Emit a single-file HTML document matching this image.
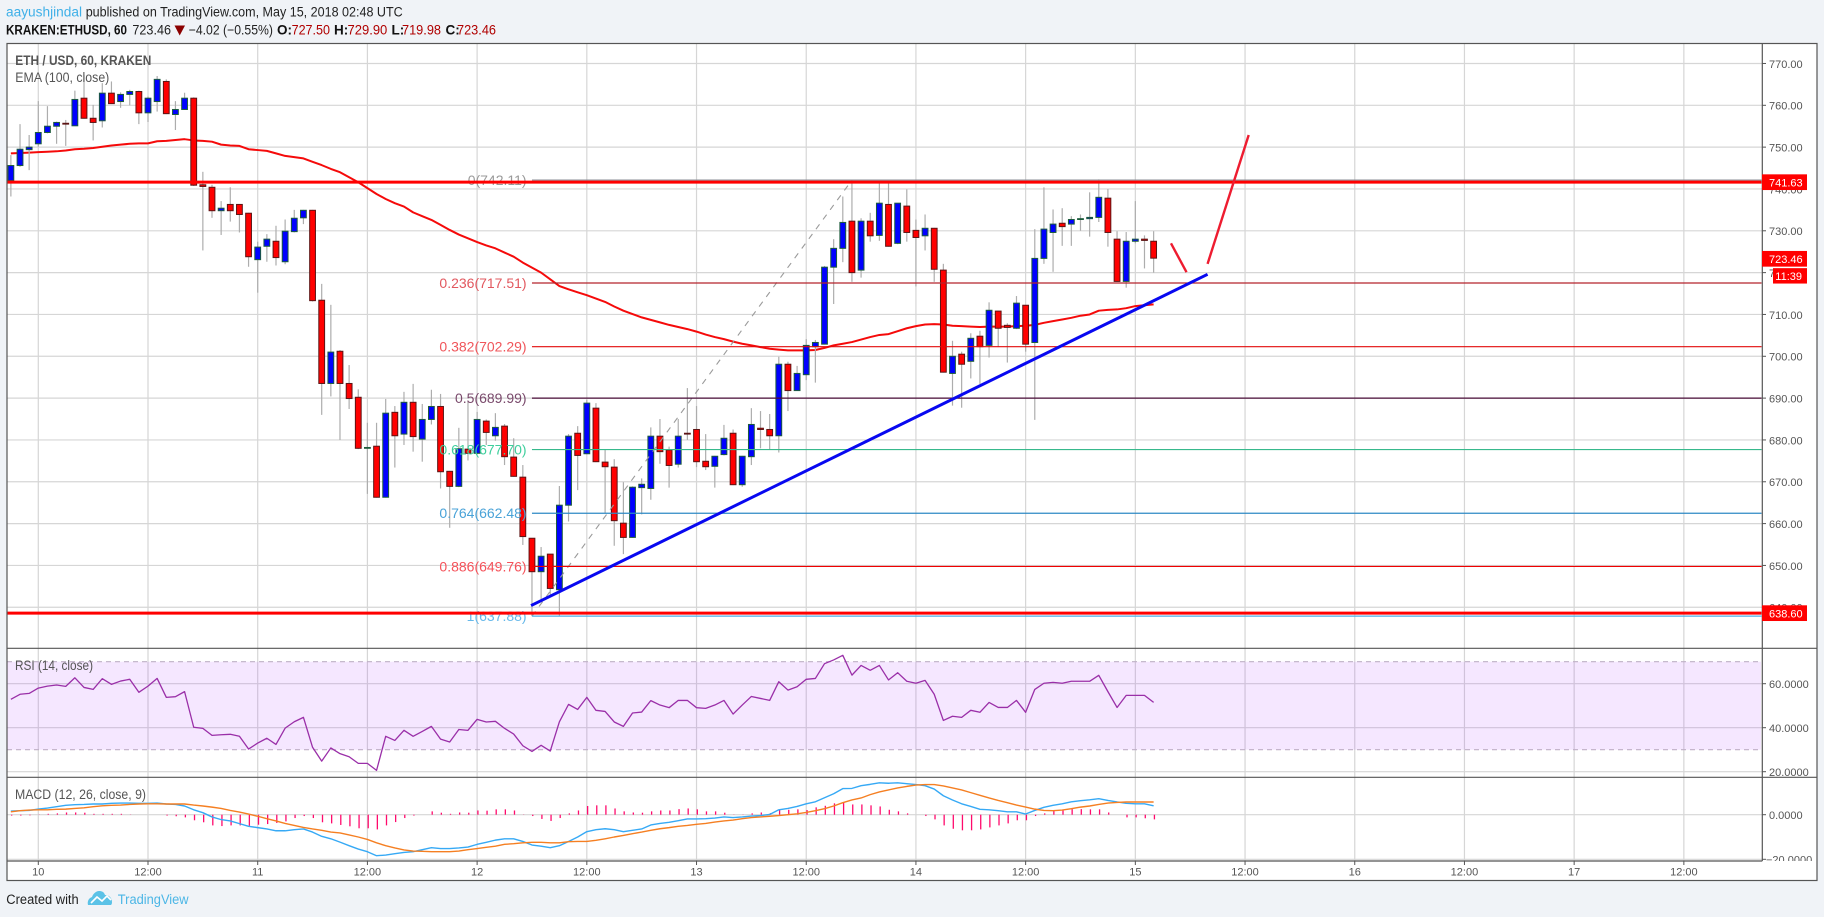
<!DOCTYPE html>
<html lang="en">
<head>
<meta charset="utf-8">
<title>ETH / USD chart</title>
<style>
html,body{margin:0;padding:0;background:#f0f3f7;width:1824px;height:917px;overflow:hidden}
svg{display:block;font-family:"Liberation Sans",Arial,sans-serif}
</style>
</head>
<body>
<svg id="chart" xmlns="http://www.w3.org/2000/svg" width="1824" height="917" viewBox="0 0 1824 917">
  <defs>
    <clipPath id="mainClip"><rect x="7" y="44" width="1755" height="604"/></clipPath>
    <clipPath id="macdClip"><rect x="7" y="778" width="1755" height="83"/></clipPath>
    <clipPath id="macdAxisClip"><rect x="1763" y="778" width="54" height="83"/></clipPath>
  </defs>
  <rect x="0" y="0" width="1824" height="917" fill="#f0f3f7"/>

  <g font-size="13.5">
    <text x="6" y="16.5" fill="#3fb0e8" textLength="76" lengthAdjust="spacingAndGlyphs">aayushjindal</text>
    <text x="85.7" y="16.5" fill="#222" textLength="317" lengthAdjust="spacingAndGlyphs">published on TradingView.com, May 15, 2018 02:48 UTC</text>
  </g>
  <g font-size="13.5">
    <text x="6" y="34.5" fill="#111" font-weight="700" textLength="121" lengthAdjust="spacingAndGlyphs">KRAKEN:ETHUSD, 60</text>
    <text x="132.4" y="34.5" fill="#222" textLength="38.6" lengthAdjust="spacingAndGlyphs">723.46</text>
    <polygon points="174.5,25.5 185,25.5 179.7,35.5" fill="#8b0000"/>
    <text x="188.7" y="34.5" fill="#222" textLength="84.3" lengthAdjust="spacingAndGlyphs">−4.02 (−0.55%)</text>
    <text x="277" y="34.5" fill="#111" font-weight="700">O:</text>
    <text x="291.6" y="34.5" fill="#b00000" textLength="38.4" lengthAdjust="spacingAndGlyphs">727.50</text>
    <text x="334" y="34.5" fill="#111" font-weight="700">H:</text>
    <text x="347.5" y="34.5" fill="#b00000" textLength="39.8" lengthAdjust="spacingAndGlyphs">729.90</text>
    <text x="391.5" y="34.5" fill="#111" font-weight="700">L:</text>
    <text x="402" y="34.5" fill="#b00000" textLength="39" lengthAdjust="spacingAndGlyphs">719.98</text>
    <text x="445.5" y="34.5" fill="#111" font-weight="700">C:</text>
    <text x="457" y="34.5" fill="#b00000" textLength="39" lengthAdjust="spacingAndGlyphs">723.46</text>
  </g>

  <rect x="7" y="43.5" width="1810" height="837" fill="#ffffff"/>

  <g id="grid"></g>
  <g id="rsiBandLines"></g>
  <g id="mainLower" clip-path="url(#mainClip)"></g>
  <g id="candles" clip-path="url(#mainClip)"></g>
  <g id="drawings" clip-path="url(#mainClip)"></g>
  <g id="rsiPane"></g>
  <g id="macdPane" clip-path="url(#macdClip)"></g>

  <g stroke="#555" stroke-width="1.2" fill="none">
    <rect x="7" y="43.5" width="1810" height="837"/>
    <line x1="1762.3" y1="43.5" x2="1762.3" y2="861"/>
    <line x1="7" y1="648.3" x2="1817" y2="648.3"/>
    <line x1="7" y1="777.3" x2="1817" y2="777.3"/>
    <line x1="7" y1="861" x2="1762.3" y2="861"/>
  </g>
  <g id="axes"></g>
  <g id="macdAxis" clip-path="url(#macdAxisClip)"></g>
  <g id="badges"></g>

  <g fill="#555">
    <text x="15.3" y="65" font-size="13.5" font-weight="700" textLength="136" lengthAdjust="spacingAndGlyphs">ETH / USD, 60, KRAKEN</text>
    <text x="15.3" y="82" font-size="13.5" textLength="94" lengthAdjust="spacingAndGlyphs">EMA (100, close)</text>
    <text x="15" y="670" font-size="13.5" textLength="78" lengthAdjust="spacingAndGlyphs">RSI (14, close)</text>
    <text x="15" y="799" font-size="13.5" textLength="131" lengthAdjust="spacingAndGlyphs">MACD (12, 26, close, 9)</text>
  </g>

  <g>
    <text x="6.3" y="904" font-size="13.5" fill="#222" textLength="72.4" lengthAdjust="spacingAndGlyphs">Created with</text>
    <g>
      <path d="M88 905c-1-4 1-7 4-8 1-3 4-6 7-6 3 0 5 1 6 4 4 0 7 3 7 7 0 1 0 2-1 3z" fill="#5bc2e7"/>
      <path d="M91 903l6-6 5 4 5-5 4 4" fill="none" stroke="#ffffff" stroke-width="1.6"/>
    </g>
    <text x="117.8" y="904" font-size="13.5" fill="#4bb6e6" textLength="70.8" lengthAdjust="spacingAndGlyphs">TradingView</text>
  </g>
</svg>

<script>
// ---- chart data (one entry per hourly candle) ----
const firstCandleHour = -3; // hours relative to May 10 00:00
const openPrices = [
742.0,745.6,749.4,750.8,753.5,755.0,755.7,755.1,761.7,756.9,
756.3,762.9,760.9,762.6,763.3,758.2,760.9,765.7,757.8,759.0,
761.7,741.0,740.4,734.8,736.3,736.3,734.2,723.1,726.3,727.5,
722.6,729.8,733.1,734.9,713.4,693.5,701.2,693.5,690.2,678.0,
678.5,666.3,686.6,681.4,689.0,680.2,684.9,688.0,672.5,668.9,
677.8,676.8,684.5,681.0,683.3,675.9,671.1,656.5,648.5,652.7,
644.2,664.4,681.6,676.7,687.6,674.7,673.5,660.1,656.7,668.6,
668.4,680.9,677.6,674.2,681.6,682.5,674.9,673.7,676.5,681.6,
669.3,676.0,682.8,682.5,681.0,698.1,691.8,695.6,702.3,702.9,
721.3,725.8,732.3,720.6,732.3,728.9,736.3,727.0,735.9,730.1,
728.8,730.6,720.6,695.9,700.5,698.8,704.8,702.6,710.8,707.4,
706.7,712.2,703.3,723.4,729.6,731.8,731.6,732.7,732.9,733.2,
737.8,728.0,717.9,727.5,728.0,727.5];
const closePrices = [
745.6,749.5,750.0,753.5,755.0,755.9,755.5,761.4,756.9,755.9,
762.9,760.4,762.6,763.3,758.2,761.7,766.2,758.0,759.0,761.7,
740.9,740.6,734.8,735.4,734.8,733.9,723.8,726.1,728.0,723.6,
729.9,733.0,734.9,713.3,693.5,701.0,693.5,689.9,678.0,678.2,
666.3,686.4,681.0,689.0,680.8,684.9,688.0,672.4,668.9,677.9,
676.8,684.9,681.8,683.0,676.0,671.3,656.9,648.5,652.2,644.5,
664.4,680.9,676.3,688.8,674.8,673.6,660.7,656.7,668.7,669.4,
680.9,677.2,673.9,680.9,681.4,674.8,673.6,676.1,680.4,669.3,
676.1,683.7,682.5,681.0,698.1,691.8,695.9,702.6,703.3,721.3,
725.8,732.0,720.0,732.3,728.8,736.6,726.3,736.6,729.6,728.4,
730.6,720.8,696.2,700.0,698.1,704.3,702.3,711.0,706.7,706.9,
712.7,702.9,723.4,730.4,731.6,731.0,732.7,732.9,733.2,738.0,
729.6,717.9,727.5,728.0,727.7,723.46];
const highPrices = [
748.1,755.5,752.9,761.0,759.8,756.1,756.5,763.5,767.3,760.1,
765.3,765.7,763.1,763.7,763.5,762.1,767.0,766.2,761.0,763.0,
761.9,744.1,741.0,737.1,740.4,736.4,734.3,727.4,729.2,731.2,
732.7,735.0,735.0,735.0,717.3,712.3,701.5,697.9,692.1,684.1,
684.1,689.8,688.1,691.5,693.4,688.6,692.0,691.0,672.6,682.9,
689.2,686.7,684.9,686.4,683.8,680.4,674.0,656.5,654.4,652.7,
669.0,681.4,683.3,689.6,688.8,677.6,675.4,669.9,668.9,670.8,
683.0,685.0,678.4,685.0,692.4,688.1,681.4,676.2,683.6,682.5,
676.2,687.6,686.9,686.2,699.9,698.7,697.7,704.1,703.9,721.6,
728.0,738.2,742.11,733.0,734.3,741.4,741.4,736.6,739.9,732.7,
733.9,730.7,722.1,703.7,701.1,705.5,706.1,712.9,710.9,707.9,
714.4,712.2,730.4,740.4,735.1,735.4,733.5,733.9,739.2,742.3,
740.0,729.9,729.7,737.1,728.9,729.90];
const lowPrices = [
738.2,745.3,744.5,750.1,753.3,750.8,750.3,755.1,756.8,751.6,
754.7,760.3,759.4,760.0,755.5,756.0,758.5,757.9,754.1,758.9,
740.7,725.3,733.1,729.0,732.2,729.6,721.4,715.2,722.6,721.7,
722.0,729.6,731.6,713.1,686.0,690.4,680.0,687.4,677.8,667.1,
666.2,666.2,673.4,678.8,677.2,674.8,683.7,668.4,659.0,668.7,
675.1,676.6,678.8,679.8,674.0,671.2,654.9,637.88,641.9,643.0,
637.9,660.5,668.0,676.6,674.7,662.5,654.7,652.7,656.6,662.2,
665.7,674.3,668.6,673.4,680.0,673.5,672.8,668.6,676.3,669.2,
668.8,674.0,678.0,677.8,677.0,686.9,691.7,694.3,693.7,702.8,
712.5,722.5,717.8,718.8,727.4,727.6,726.2,726.8,727.4,716.7,
725.3,717.8,696.1,688.2,687.7,694.7,693.4,699.7,702.2,698.5,
706.5,701.1,684.8,722.1,720.2,726.4,726.4,730.0,728.6,732.1,
726.2,717.8,716.4,727.0,721.0,719.98];
const emaValues = [
748.5,748.6,748.7,748.8,748.9,749.0,749.2,749.5,749.6,749.8,
750.1,750.4,750.6,750.8,750.9,750.9,751.4,751.5,751.7,751.9,
751.6,751.5,751.3,750.6,750.4,750.3,749.5,749.3,749.1,748.5,
747.9,747.6,747.3,746.5,745.7,744.8,744.0,742.8,741.6,740.2,
738.8,737.6,736.6,735.8,734.4,733.5,732.6,731.4,730.2,729.1,
728.2,727.3,726.5,725.8,724.8,723.8,722.4,721.2,720.0,718.4,
716.8,716.0,715.3,714.6,713.8,713.0,711.9,710.9,710.1,709.3,
708.7,708.1,707.5,707.0,706.5,705.9,705.2,704.6,704.1,703.5,
703.0,702.6,702.2,701.8,701.6,701.4,701.4,701.4,701.5,702.0,
702.6,703.0,703.4,704.0,704.6,705.1,705.3,706.0,706.7,707.2,
707.6,707.7,707.6,707.3,707.2,707.1,707.0,707.1,707.1,707.1,
707.2,707.3,707.5,708.0,708.4,708.8,709.2,709.7,710.0,710.9,
711.1,711.2,711.5,712.0,712.2,712.4];
const rsiValues = [
52.9,55.2,55.6,58.0,58.9,59.4,58.8,62.7,58.3,57.4,
62.3,59.7,61.2,62.0,56.1,58.9,62.4,53.8,54.1,56.4,
40.2,39.7,36.5,36.8,37.0,36.1,30.3,33.0,35.2,32.4,
39.8,42.7,44.7,31.1,24.8,30.8,28.2,26.8,23.8,23.8,
20.6,36.1,34.2,38.8,36.1,38.3,40.6,34.8,33.5,39.2,
38.8,43.8,42.6,42.9,39.7,37.1,31.8,29.2,32.0,29.4,
42.7,50.6,48.3,53.8,47.9,47.4,42.6,40.6,46.7,47.1,
52.3,50.3,49.1,52.4,52.4,49.1,48.8,50.3,52.4,46.2,
50.3,54.2,53.3,52.4,60.9,57.1,58.6,62.0,62.4,69.1,
70.8,72.9,63.9,68.3,66.1,68.3,61.7,65.0,61.1,60.2,
61.5,55.2,43.3,45.2,44.7,47.9,47.0,51.5,49.2,49.2,
52.4,47.0,57.4,60.2,60.6,60.2,61.1,61.1,61.1,63.8,
56.4,49.2,54.7,54.7,54.7,51.5];
const macdValues = [
1.6,1.8,1.9,2.5,3.0,3.6,4.2,4.5,4.6,4.8,
4.8,5.1,5.2,5.2,5.1,5.1,5.2,4.8,4.6,3.9,
2.2,0.9,-1.0,-2.2,-2.8,-4.0,-5.2,-5.8,-6.4,-7.2,
-7.2,-6.7,-6.4,-7.8,-9.7,-10.8,-12.3,-13.9,-15.4,-16.6,
-18.4,-18.1,-17.5,-16.9,-16.6,-15.7,-14.8,-15.2,-15.2,-14.9,
-14.5,-13.3,-12.4,-11.4,-10.8,-10.8,-12.0,-13.6,-14.1,-14.8,
-13.9,-12.0,-10.0,-7.6,-6.7,-6.3,-6.7,-7.6,-7.0,-6.4,
-4.6,-3.9,-3.4,-2.7,-1.9,-1.9,-1.8,-1.5,-1.0,-1.3,
-1.0,-0.6,-0.4,0.1,2.2,2.8,3.7,4.9,5.8,7.6,
9.4,11.7,11.8,13.0,13.6,14.3,14.1,14.3,13.9,13.5,
13.0,11.5,8.5,6.6,4.9,3.7,2.4,2.2,1.8,1.3,
1.3,0.3,1.9,3.3,4.2,4.9,5.8,6.3,6.7,7.2,
6.4,5.7,5.1,4.9,4.9,4.0];
const signalValues = [
1.3,1.8,2.1,2.2,2.2,2.4,2.5,2.8,3.1,3.6,
4.0,4.2,4.3,4.6,4.8,4.9,4.9,4.8,4.8,4.8,
4.3,3.9,3.4,2.8,1.9,1.2,0.3,-0.7,-1.8,-2.8,
-3.9,-4.8,-5.7,-6.4,-7.0,-7.8,-8.2,-9.1,-10.0,-11.1,
-12.6,-13.9,-14.9,-15.8,-16.3,-16.4,-16.6,-16.6,-16.6,-16.3,
-15.7,-15.2,-14.6,-14.1,-13.3,-13.0,-12.6,-12.4,-12.4,-12.6,
-12.6,-12.1,-12.0,-12.0,-11.5,-10.8,-10.0,-9.3,-8.5,-7.8,
-7.0,-6.3,-5.8,-5.2,-4.8,-4.3,-3.9,-3.3,-2.8,-2.4,
-1.8,-1.3,-1.0,-0.7,-0.4,0.0,0.4,1.0,1.8,2.7,
3.9,5.4,6.6,7.5,9.0,10.2,11.1,12.0,12.7,13.3,
13.5,13.5,12.9,12.0,11.1,9.9,8.7,7.5,6.4,5.4,
4.3,3.4,2.5,1.9,1.8,2.1,2.7,3.4,3.9,4.6,
5.2,5.5,5.7,5.7,5.7,5.7];
const histValues = [
-0.4,-0.4,-0.3,0.1,0.4,0.6,1.0,1.0,0.9,0.4,
0.4,0.4,0.4,0.1,0,0,0,-0.4,-0.7,-1.2,
-2.5,-3.4,-4.8,-5.1,-4.8,-4.8,-5.0,-4.5,-4.2,-3.7,
-3.0,-1.5,-0.6,-1.5,-3.4,-3.9,-4.6,-5.2,-6.1,-6.1,
-6.6,-4.8,-3.3,-1.5,-0.4,0,1.5,0.9,0.4,1.0,
0.9,1.9,1.8,2.4,2.4,1.9,0.1,-0.6,-1.9,-2.8,
-1.5,0.6,1.9,3.9,4.2,4.2,2.8,1.5,1.0,0.9,
1.5,1.9,1.9,2.5,2.8,2.4,1.5,1.5,0.9,0.1,
0.1,0.6,1.0,0.7,2.1,2.2,2.4,2.1,3.3,4.0,
5.1,5.5,4.6,4.6,4.2,3.7,2.2,1.5,0.6,0,
-0.6,-2.1,-4.8,-6.3,-7.0,-7.0,-6.6,-5.7,-4.8,-3.9,
-2.5,-2.5,-0.6,0.6,1.8,2.1,2.5,2.5,2.4,2.4,
1.0,0,-1.2,-1.2,-1.6,-2.1];

// ---- axis and level data ----
const timeTickHours = [0,12,24,36,48,60,72,84,96,108,120,132,144,156,168,180];
const timeTickLabels = ["10","12:00","11","12:00","12","12:00","13","12:00","14","12:00","15","12:00","16","12:00","17","12:00"];
const priceTicks = [770,760,750,740,730,720,710,700,690,680,670,660,650,640];
const rsiTicks = [60,40,20];
const rsiBandLevels = [70,30];
const macdTicks = [0,-20];
const fibRatios = ["0","0.236","0.382","0.5","0.618","0.764","0.886","1"];
const fibPrices = [742.11,717.51,702.29,689.99,677.70,662.48,649.76,637.88];
const resistanceLevels = [741.63,638.60];
const trendHours = [53.9,127.9];
const trendPrices = [640.4,719.6];
const pullbackHours = [123.9,125.6];
const pullbackPrices = [727.0,720.1];
const rallyHours = [127.9,132.4];
const rallyPrices = [722.1,752.9];
const lastPriceBadge = 723.46;
const countdownLabel = "11:39";

// ---- scales ----
const xOfHour = h => 38.3 + 9.142 * h;
const xOfIndex = i => xOfHour(firstCandleHour + i);
const yPrice = p => 105.3 + (760 - p) * 4.183;
const yRsi = v => 683.7 + (60 - v) * 2.2;
const yMacd = v => 814.7 - v * 2.23;

const NS = "http://www.w3.org/2000/svg";
const fibColors = ["#8a8d94","#b5242c","#e30b0b","#4a0d38","#37b98c","#2e8ac4","#f00000","#4eaee6"];
const fibTextColors = ["#9a9a9a","#e2585f","#f0555a","#7a4a6c","#3fcf9d","#4aa3d8","#f5525a","#66b8ea"];

function make(parent, tag, attrs, text) {
  const el = document.createElementNS(NS, tag);
  for (const key in attrs) el.setAttribute(key, attrs[key]);
  if (text !== undefined) el.textContent = text;
  document.getElementById(parent).appendChild(el);
  return el;
}
function pathFrom(values, yFn) {
  return values.map((v, i) => (i ? "L" : "M") + xOfIndex(i).toFixed(2) + " " + yFn(v).toFixed(2)).join(" ");
}

// ---- grid ----
timeTickHours.forEach(h => {
  const line = make("grid", "line", {x1: xOfHour(h), x2: xOfHour(h), y1: 44, y2: 861, stroke: "#d6d6d6", "stroke-width": 1.2});
  
  
});
priceTicks.forEach(p => {
  const line = make("grid", "line", {x1: 7, x2: 1762, y1: yPrice(p), y2: yPrice(p), stroke: "#d6d6d6", "stroke-width": 1.2});
  
  
});
rsiTicks.forEach(v => {
  const line = make("grid", "line", {x1: 7, x2: 1762, y1: yRsi(v), y2: yRsi(v), stroke: "#d6d6d6", "stroke-width": 1.2});
  
  
});
macdTicks.forEach(v => {
  const line = make("grid", "line", {x1: 7, x2: 1762, y1: yMacd(v), y2: yMacd(v), stroke: "#d6d6d6", "stroke-width": 1.2});
  
  
});
// translucent purple RSI band drawn over the grid
const rsiBand = make("grid", "rect", {x: 7, y: yRsi(rsiBandLevels[0]), width: 1754, height: yRsi(rsiBandLevels[1]) - yRsi(rsiBandLevels[0]), fill: "#9915ff", "fill-opacity": 0.1});


rsiBandLevels.forEach(v => {
  const line = make("rsiBandLines", "line", {x1: 7, x2: 1761, y1: yRsi(v), y2: yRsi(v), stroke: "#bfb0c6", "stroke-width": 1.2, "stroke-dasharray": "5 4"});
  
  
});

// ---- EMA ----
const emaLine = make("mainLower", "path", {d: pathFrom(emaValues, yPrice), fill: "none", stroke: "#f50a0a", "stroke-width": 2, "stroke-linejoin": "round"});



// ---- candles ----
openPrices.forEach((o, i) => {
  const c = closePrices[i];
  const up = c >= o;
  const x = xOfIndex(i);
  const wick = make("candles", "line", {x1: x, x2: x, y1: yPrice(highPrices[i]), y2: yPrice(lowPrices[i]), stroke: "#adadad", "stroke-width": 1.2});
  
  
  const top = yPrice(Math.max(o, c));
  const h = Math.max(yPrice(Math.min(o, c)) - top, 0.6);
  const body = make("candles", "rect", {x: x - 2.9, y: top, width: 5.8, height: h, fill: up ? "#0000ff" : "#ff0000", stroke: up ? "#1c5c3c" : "#5c1414", "stroke-width": 1});
  
  
});

// ---- fibonacci retracement ----
const fibStartX = xOfIndex(57);
const fibTrend = make("drawings", "line", {x1: fibStartX, y1: yPrice(fibPrices[7]), x2: xOfIndex(92), y2: yPrice(fibPrices[0]), stroke: "#9a9a9a", "stroke-width": 1.1, "stroke-dasharray": "6 6"});


fibRatios.forEach((r, i) => {
  const line = make("drawings", "line", {x1: fibStartX, x2: 1761.5, y1: yPrice(fibPrices[i]), y2: yPrice(fibPrices[i]), stroke: fibColors[i], "stroke-width": 1.2});
  
  
  const label = make("drawings", "text", {x: 526.6, y: yPrice(fibPrices[i]) + 5, "text-anchor": "end", "font-size": 14, fill: fibTextColors[i]}, r + "(" + fibPrices[i].toFixed(2) + ")");
  
  
});

// ---- resistance / support ----
resistanceLevels.forEach(p => {
  const line = make("drawings", "line", {x1: 7, x2: 1761.5, y1: yPrice(p), y2: yPrice(p), stroke: "#ff0000", "stroke-width": 3});
  
  
});

// ---- hand-drawn trendlines ----
const trendLine = make("drawings", "line", {x1: xOfHour(trendHours[0]), y1: yPrice(trendPrices[0]), x2: xOfHour(trendHours[1]), y2: yPrice(trendPrices[1]), stroke: "#0808f0", "stroke-width": 3});


const pullbackLine = make("drawings", "line", {x1: xOfHour(pullbackHours[0]), y1: yPrice(pullbackPrices[0]), x2: xOfHour(pullbackHours[1]), y2: yPrice(pullbackPrices[1]), stroke: "#ee1c30", "stroke-width": 2.4});


const rallyLine = make("drawings", "line", {x1: xOfHour(rallyHours[0]), y1: yPrice(rallyPrices[0]), x2: xOfHour(rallyHours[1]), y2: yPrice(rallyPrices[1]), stroke: "#ee1c30", "stroke-width": 2.4});



// ---- RSI ----
const rsiLine = make("rsiPane", "path", {d: pathFrom(rsiValues, yRsi), fill: "none", stroke: "#9a2fa8", "stroke-width": 1.3, "stroke-linejoin": "round"});



// ---- MACD ----
histValues.forEach((v, i) => {
  if (v === 0) return;
  const bar = make("macdPane", "line", {x1: xOfIndex(i) + 0.8, x2: xOfIndex(i) + 0.8, y1: yMacd(0), y2: yMacd(v), stroke: "#ff0a6c", "stroke-width": 1.3});
  
  
});
const macdLine = make("macdPane", "path", {d: pathFrom(macdValues, yMacd), fill: "none", stroke: "#36a9f5", "stroke-width": 1.4, "stroke-linejoin": "round"});


const signalLine = make("macdPane", "path", {d: pathFrom(signalValues, yMacd), fill: "none", stroke: "#f57f22", "stroke-width": 1.4, "stroke-linejoin": "round"});



// ---- axes ----
timeTickHours.forEach((h, i) => {
  const tick = make("axes", "line", {x1: xOfHour(h), x2: xOfHour(h), y1: 861, y2: 865, stroke: "#555", "stroke-width": 1});
  
  
  const label = make("axes", "text", {x: xOfHour(h), y: 875.7, "text-anchor": "middle", "font-size": 11, fill: "#555"}, timeTickLabels[i]);
  
  
});
priceTicks.forEach(p => {
  const tick = make("axes", "line", {x1: 1762.3, x2: 1766, y1: yPrice(p), y2: yPrice(p), stroke: "#555", "stroke-width": 1});
  
  
  const label = make("axes", "text", {x: 1769, y: yPrice(p) + 4.4, "font-size": 11, fill: "#555"}, p.toFixed(2));
  
  
});
rsiTicks.forEach(v => {
  const tick = make("axes", "line", {x1: 1762.3, x2: 1766, y1: yRsi(v), y2: yRsi(v), stroke: "#555", "stroke-width": 1});
  
  
  const label = make("axes", "text", {x: 1769, y: yRsi(v) + 4.4, "font-size": 11, fill: "#555"}, v.toFixed(4));
  
  
});
macdTicks.forEach(v => {
  const tick = make("axes", "line", {x1: 1762.3, x2: 1766, y1: yMacd(v), y2: yMacd(v), stroke: "#555", "stroke-width": 1});
  
  
  const label = make("macdAxis", "text", {x: v < 0 ? 1766 : 1769, y: yMacd(v) + 4.4, "font-size": 11, fill: "#555"}, (v < 0 ? "−" + Math.abs(v).toFixed(4) : v.toFixed(4)));
  
  
});

// ---- price badges ----
resistanceLevels.forEach(p => {
  const box = make("badges", "rect", {x: 1762, y: yPrice(p) - 7.8, width: 45, height: 15.7, fill: "#ff0000"});
  
  
  const label = make("badges", "text", {x: 1769, y: yPrice(p) + 4.4, "font-size": 11, fill: "#ffffff"}, p.toFixed(2));
  
  
});
const lastBox = make("badges", "rect", {x: 1762, y: yPrice(lastPriceBadge) - 7.2, width: 45, height: 15.7, fill: "#ff0000"});


const lastText = make("badges", "text", {x: 1769, y: yPrice(lastPriceBadge) + 4.8, "font-size": 11, fill: "#ffffff"}, lastPriceBadge.toFixed(2));


const countBox = make("badges", "rect", {x: 1773, y: yPrice(lastPriceBadge) + 10, width: 34, height: 15.4, fill: "#ff0000"});


const countText = make("badges", "text", {x: 1802, y: yPrice(lastPriceBadge) + 21.8, "text-anchor": "end", "font-size": 11, fill: "#ffffff"}, countdownLabel);


</script>
</body>
</html>
